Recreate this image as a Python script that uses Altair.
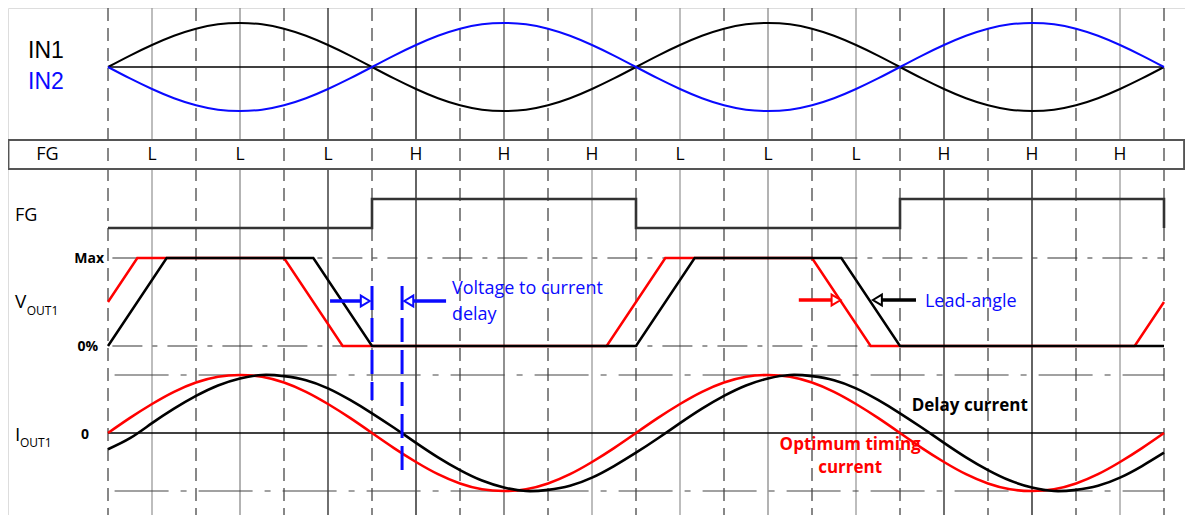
import altair as alt
import pandas as pd

# ---------------- data ----------------
# electrical angle grid of the sampled waveforms (degrees)
SAMPLE_DEG = list(range(0, 721, 15))

# IN1 hall signal, normalised, one electrical period at 15 deg steps
IN1_PERIOD = [0.00, 0.26, 0.50, 0.71, 0.87, 0.97, 1.00, 0.97, 0.87, 0.71, 0.50, 0.26,
              0.00, -0.26, -0.50, -0.71, -0.87, -0.97, -1.00, -0.97, -0.87, -0.71, -0.50, -0.26]
IN1 = IN1_PERIOD * 2 + [0.00]
IN2 = [-v for v in IN1]

# output current, normalised (optimum timing = red, delay current = black)
I_OPT_PERIOD = [0.00, 0.26, 0.50, 0.71, 0.87, 0.97, 1.00, 0.97, 0.87, 0.71, 0.50, 0.26,
                0.00, -0.26, -0.50, -0.71, -0.87, -0.97, -1.00, -0.97, -0.87, -0.71, -0.50, -0.26]
I_OPT = I_OPT_PERIOD * 2 + [0.00]
I_DELAY_PERIOD = [-0.34, -0.09, 0.17, 0.42, 0.64, 0.82, 0.94, 1.00, 0.98, 0.91, 0.77, 0.57,
                  0.34, 0.09, -0.17, -0.42, -0.64, -0.82, -0.94, -1.00, -0.98, -0.91, -0.77, -0.57]
I_DELAY = [-0.28] + I_DELAY_PERIOD[1:] + I_DELAY_PERIOD + [-0.34]

# output voltage (0 = 0%, 1 = Max)
V_BLACK_DEG = [0, 40, 140, 180, 360, 400, 500, 540, 720]
V_BLACK = [0, 1, 1, 0, 0, 1, 1, 0, 0]
V_RED_DEG = [0, 20, 120, 160, 340, 380, 480, 520, 700, 720]
V_RED = [0.5, 1, 1, 0, 0, 1, 1, 0, 0, 0.5]

# FG signal (0 = low, 1 = high)
FG_DEG = [0, 180, 180, 360, 360, 540, 540, 720, 720]
FG_LEVEL = [0, 0, 1, 1, 0, 0, 1, 1, 0]

# FG table
FG_TABLE_DEG = [30, 90, 150, 210, 270, 330, 390, 450, 510, 570, 630, 690]
FG_TABLE = ["L", "L", "L", "H", "H", "H", "L", "L", "L", "H", "H", "H"]

# vertical grid (every 30 deg)
GRID_DEG = list(range(0, 721, 30))

# ---------------- layout / style ----------------
PX_PER_DEG = 528 / 360
X_MIN, X_MAX = -100 / PX_PER_DEG, 1077 / PX_PER_DEG
Y_TOP, Y_BOTTOM = 8, 515

IN_ZERO, IN_AMP = 67, 44
BOX_TOP, BOX_BOTTOM = 140, 169
FG_LOW, FG_HIGH = 228, 199
V_ZERO, V_MAXY = 346, 258
I_ZERO, I_AMP = 433, 58
I_TOP, I_BOT = I_ZERO - I_AMP, I_ZERO + I_AMP

BLUE = "#0a0aff"
RED = "#ff0000"
FONT = "Open Sans"

X = alt.X("deg:Q", scale=alt.Scale(domain=[X_MIN, X_MAX], nice=False, zero=False), axis=None)
Y = alt.Y("y:Q", scale=alt.Scale(domain=[Y_TOP, Y_BOTTOM], reverse=True, nice=False, zero=False), axis=None)

layers = []

# --- vertical grid lines ---
solid_colors = ["#9a9a9a", "#8a8a8a", "#222222", "#111111", "#555555", "#9a9a9a",
                "#9a9a9a", "#8a8a8a", "#9a9a9a", "#222222", "#111111", "#9a9a9a"]
dashed = pd.DataFrame({"deg": [d for d in GRID_DEG if d % 60 == 0]})
dashed["y"] = Y_TOP
dashed["y2"] = Y_BOTTOM
layers.append(alt.Chart(dashed).mark_rule(color="#555555", strokeWidth=1.4, strokeDash=[13, 7])
              .encode(x=X, y=Y, y2=alt.Y2("y2:Q")))
solid_rows = []
for i, d in enumerate([d for d in GRID_DEG if d % 60 == 30]):
    solid_rows.append({"deg": d, "y": Y_TOP, "y2": BOX_TOP, "c": solid_colors[i]})
    solid_rows.append({"deg": d, "y": BOX_BOTTOM, "y2": Y_BOTTOM, "c": solid_colors[i]})
layers.append(alt.Chart(pd.DataFrame(solid_rows)).mark_rule(strokeWidth=1.3)
              .encode(x=X, y=Y, y2=alt.Y2("y2:Q"), color=alt.Color("c:N", scale=None)))

# --- horizontal reference lines ---
def hline(y, d0, d1, color, width, dash=None):
    df = pd.DataFrame({"deg": [d0], "deg2": [d1], "y": [y]})
    kw = dict(color=color, strokeWidth=width)
    if dash:
        kw["strokeDash"] = dash
    return alt.Chart(df).mark_rule(**kw).encode(x=X, x2=alt.X2("deg2:Q"), y=Y)

layers.append(hline(IN_ZERO, 0, 720, "black", 1.6))
layers.append(hline(V_MAXY, 3, 720, "#333333", 1.2, [30, 10, 5, 10]))
layers.append(hline(V_ZERO, 3, 720, "#333333", 1.2, [30, 10, 5, 10]))
layers.append(hline(I_TOP, 4.5, 720, "#444444", 1.2, [54, 12, 6, 12]))
layers.append(hline(I_BOT, 4.5, 720, "#444444", 1.2, [54, 12, 6, 12]))
layers.append(hline(I_ZERO, 0, 720, "black", 1.3))

# --- FG table box ---
box = pd.DataFrame({"deg": [X_MIN + 0.3], "deg2": [X_MAX - 0.6], "y": [BOX_TOP], "y2": [BOX_BOTTOM]})
layers.append(alt.Chart(box).mark_rect(fillOpacity=0, stroke="#555555", strokeWidth=2)
              .encode(x=X, x2=alt.X2("deg2:Q"), y=Y, y2=alt.Y2("y2:Q")))

# --- waveforms ---
def line(deg, vals, base, amp, color, width, interp="linear"):
    df = pd.DataFrame({"deg": deg, "v": vals})
    df["y"] = base - df["v"] * amp
    df["o"] = range(len(df))
    return alt.Chart(df).mark_line(color=color, strokeWidth=width, interpolate=interp,
                                   strokeJoin="miter", strokeCap="butt").encode(x=X, y=Y, order="o:Q")

layers.append(line(SAMPLE_DEG, IN1, IN_ZERO, IN_AMP, "black", 2, "natural"))
layers.append(line(SAMPLE_DEG, IN2, IN_ZERO, IN_AMP, BLUE, 2, "natural"))
layers.append(line(FG_DEG, FG_LEVEL, FG_LOW, FG_LOW - FG_HIGH, "#333333", 2.6))
layers.append(line(V_RED_DEG, V_RED, V_ZERO, V_ZERO - V_MAXY, RED, 2.5))
layers.append(line(V_BLACK_DEG, V_BLACK, V_ZERO, V_ZERO - V_MAXY, "black", 2.5))
layers.append(line(SAMPLE_DEG, I_OPT, I_ZERO, I_AMP, RED, 2.6, "natural"))
layers.append(line(SAMPLE_DEG, I_DELAY, I_ZERO, I_AMP, "black", 2.6, "natural"))

# --- blue delay markers ---
marks = pd.DataFrame({"deg": [180, 200.5], "y": [286, 286], "y2": [400, 477]})
layers.append(alt.Chart(marks).mark_rule(color=BLUE, strokeWidth=3, strokeDash=[24, 8])
              .encode(x=X, y=Y, y2=alt.Y2("y2:Q")))

# --- arrows ---
HEAD = 9 / PX_PER_DEG
RIGHT_HEAD = "M0,0L-1,-0.6L-1,0.6Z"
LEFT_HEAD = "M0,0L1,-0.6L1,0.6Z"

def arrow(start, tip, y, color):
    direction = 1 if tip > start else -1
    shaft = pd.DataFrame({"deg": [start], "deg2": [tip - direction * HEAD], "y": [y]})
    head = pd.DataFrame({"deg": [tip], "y": [y]})
    return [
        alt.Chart(shaft).mark_rule(color=color, strokeWidth=3.5).encode(x=X, x2=alt.X2("deg2:Q"), y=Y),
        alt.Chart(head).mark_point(shape=RIGHT_HEAD if direction > 0 else LEFT_HEAD, size=324,
                                   filled=True, fill="white", stroke=color, strokeWidth=2,
                                   opacity=1).encode(x=X, y=Y),
    ]

layers += arrow(151.4, 178.5, 301, BLUE)
layers += arrow(230.5, 202.0, 301, BLUE)
layers += arrow(471.0, 499.5, 300, RED)
layers += arrow(550.9, 521.5, 300, "black")

# --- text ---
def text(label, deg, y, size, color="black", weight="normal", align="center", font=FONT):
    df = pd.DataFrame({"deg": [deg], "y": [y], "t": [label]})
    return alt.Chart(df).mark_text(fontSize=size, color=color, fontWeight=weight, align=align,
                                   baseline="middle", font=font).encode(x=X, y=Y, text="t:N")

layers.append(text("IN1", -54.5, 51, 23, align="left", font="Liberation Sans"))
layers.append(text("IN2", -54.5, 82, 23, color=BLUE, align="left", font="Liberation Sans"))
layers.append(text("FG", -41.3, 155, 18))
for d, lab in zip(FG_TABLE_DEG, FG_TABLE):
    layers.append(text(lab, d, 155, 17.5))
layers.append(text("FG", -63.4, 216, 18, align="left"))
layers.append(text("Max", -2.7, 259, 14, weight="bold", align="right"))
layers.append(text("V", -63.4, 302, 19, align="left"))
layers.append(text("OUT1", -55.4, 311, 12, align="left"))
layers.append(text("0%", -6.8, 347, 14, weight="bold", align="right"))
layers.append(text("I", -63.4, 435, 19, align="left"))
layers.append(text("OUT1", -60.0, 443, 12, align="left"))
layers.append(text("0", -15.7, 435, 14, weight="bold"))
layers.append(text("Voltage to current", 234.5, 289, 18, color=BLUE, align="left"))
layers.append(text("delay", 234.5, 315, 18, color=BLUE, align="left"))
layers.append(text("Lead-angle", 557.0, 302, 18, color=BLUE, align="left"))
layers.append(text("Delay current", 548.0, 406, 17, weight="bold", align="left"))
layers.append(text("Optimum timing", 506.0, 445, 17, color=RED, weight="bold"))
layers.append(text("current", 506.0, 468, 17, color=RED, weight="bold"))

chart = alt.layer(*layers).properties(
    width=1177, height=507, padding=0,
    autosize=alt.AutoSizeParams(type="none"),
).configure_view(strokeWidth=0).configure(background="white")

chart.save("out.html", embed_options={"renderer": "svg", "actions": False})
